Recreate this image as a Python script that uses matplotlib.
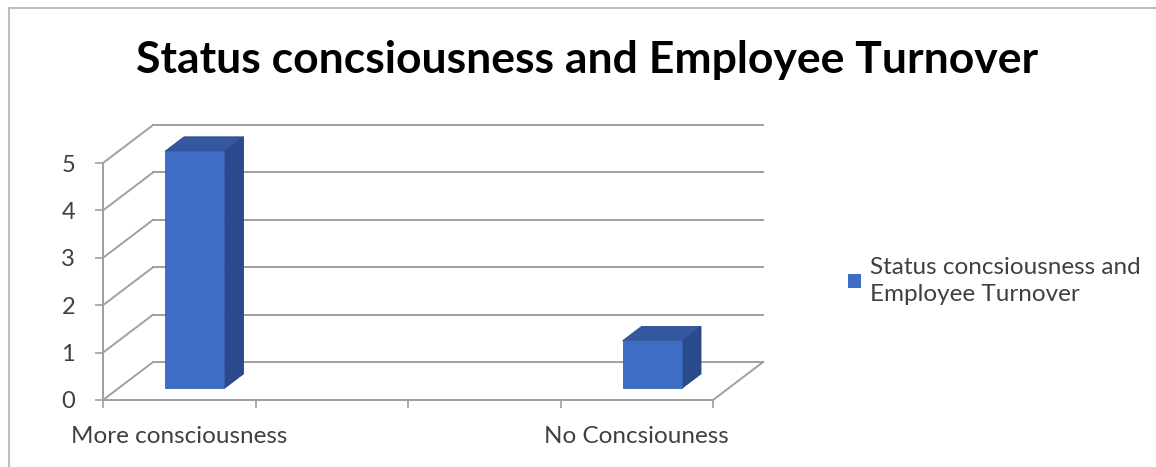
import matplotlib.pyplot as plt
from matplotlib.patches import Polygon

plt.rcParams['font.family'] = ['Lato', 'DejaVu Sans']

# data
categories = ['More consciousness', '', '', 'No Concsiouness']
values = [5, None, None, 1]
series_name = 'Status concsiousness and\nEmployee Turnover'
title = 'Status concsiousness and Employee Turnover'
y_ticks = [0, 1, 2, 3, 4, 5]

W, H = 1156, 467
fig = plt.figure(figsize=(W / 100, H / 100), dpi=100)
fig.patch.set_facecolor('white')

# front plane of the 3-D box (pixels -> figure fraction)
ax = fig.add_axes([103 / W, (H - 400) / H, (713 - 103) / W, (400 - 163) / H])
ax.set_xlim(0, len(categories))
ax.set_ylim(0, max(y_ticks))
ax.patch.set_alpha(0)

# depth offset of the back wall in data units
DX, DY = 0.328, 0.80
GRID = '#a0a0a0'


def proj(x, y, d):
    return (x + d * DX, y + d * DY)


# back wall gridlines and side wall diagonals
for v in y_ticks:
    p0, p1 = proj(0, v, 1), proj(len(categories), v, 1)
    ax.plot([p0[0], p1[0]], [p0[1], p1[1]], color=GRID, lw=1.4, clip_on=False, zorder=1)
    ax.plot([0, p0[0]], [v, p0[1]], color=GRID, lw=1.4, clip_on=False, zorder=1)
# floor right edge
pr = proj(len(categories), 0, 1)
ax.plot([len(categories), pr[0]], [0, pr[1]], color=GRID, lw=1.4, clip_on=False, zorder=1)

# 3-D columns
bw = 0.39
d0, d1 = 0.31, 0.69
for i, v in enumerate(values):
    if v is None:
        continue
    x0, x1 = i + 0.5 - bw / 2, i + 0.5 + bw / 2
    front = [proj(x0, 0, d0), proj(x1, 0, d0), proj(x1, v, d0), proj(x0, v, d0)]
    side = [proj(x1, 0, d0), proj(x1, 0, d1), proj(x1, v, d1), proj(x1, v, d0)]
    top = [proj(x0, v, d0), proj(x1, v, d0), proj(x1, v, d1), proj(x0, v, d1)]
    ax.add_patch(Polygon(side, closed=True, fc='#2b4a8e', ec='#24407c', lw=0.6, clip_on=False, zorder=3))
    ax.add_patch(Polygon(top, closed=True, fc='#34589f', ec='#2b4a8e', lw=0.6, clip_on=False, zorder=3))
    ax.add_patch(Polygon(front, closed=True, fc='#3f6cc4', ec='#3761b2', lw=0.6, clip_on=False, zorder=4))

# axes: front vertical and floor front edge
for s in ['top', 'right']:
    ax.spines[s].set_visible(False)
for s in ['left', 'bottom']:
    ax.spines[s].set_color(GRID)
    ax.spines[s].set_linewidth(1.4)

ax.set_yticks(y_ticks)
ax.set_yticklabels([str(t) for t in y_ticks])
ax.tick_params(axis='y', length=6, width=1.2, color=GRID, pad=14, labelsize=17, labelcolor='#404040')

ax.set_xticks(range(len(categories) + 1))
ax.set_xticklabels([])
ax.set_xticks([i + 0.5 for i in range(len(categories))], minor=True)
ax.set_xticklabels(categories, minor=True)
ax.tick_params(axis='x', which='major', length=6, width=1.2, color=GRID)
ax.tick_params(axis='x', which='minor', length=0, pad=19, labelsize=17.5, labelcolor='#404040')

# title
fig.text(587 / W, 1 - 60 / H, title, ha='center', va='center', fontsize=32, fontweight='bold', color='black')

# legend
lg = fig.legend(handles=[Polygon([[0, 0]], fc='#3f6cc4')], labels=[series_name],
                loc='center left', bbox_to_anchor=(826 / W, 1 - 281 / H), frameon=False,
                fontsize=17.5, handlelength=0.55, handleheight=0.55, handletextpad=0.35,
                labelcolor='#404040')
for t in lg.get_texts():
    t.set_linespacing(1.35)

# outer frame (top and left edges)
fig.add_artist(plt.Line2D([9 / W, 1], [1 - 7.5 / H, 1 - 7.5 / H], color='#bdbdbd', lw=1.5))
fig.add_artist(plt.Line2D([9 / W, 9 / W], [0, 1 - 7.5 / H], color='#bdbdbd', lw=1.5))

plt.savefig('out.png', dpi=100, facecolor='white')
